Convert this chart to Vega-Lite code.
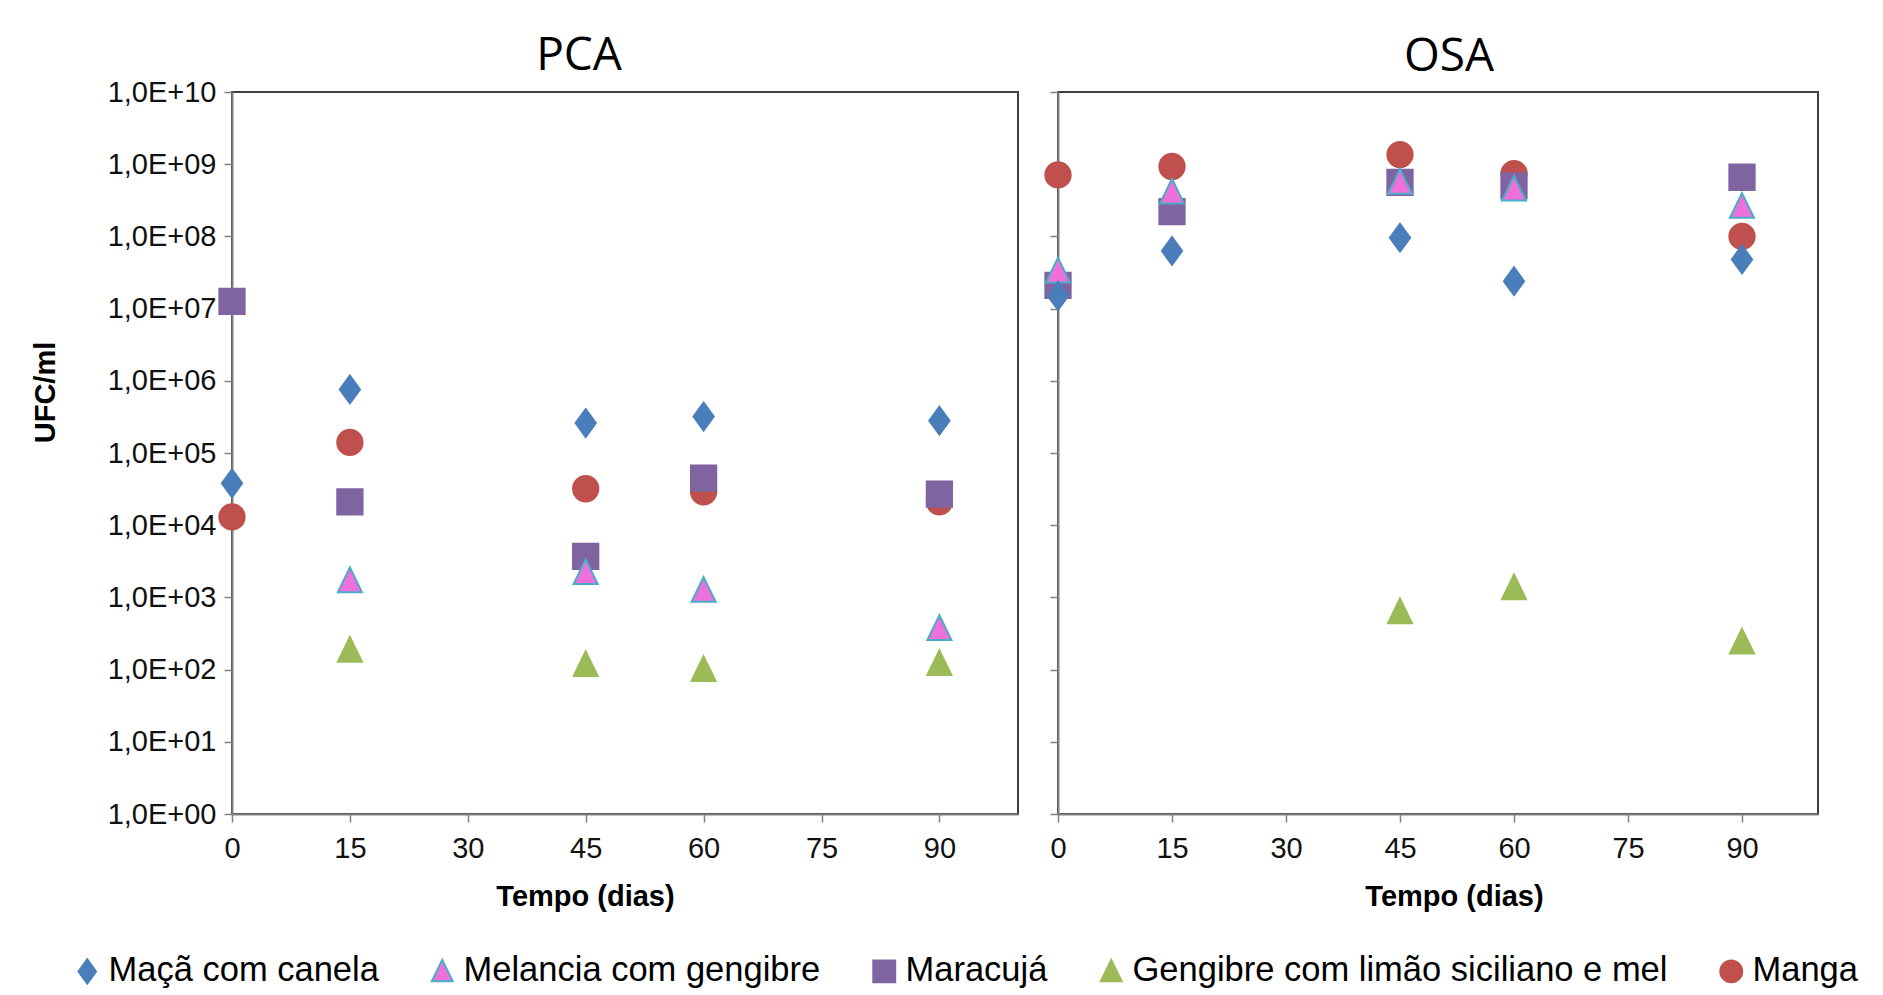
{
  "$schema": "https://vega.github.io/schema/vega-lite/v6.json",
  "background": "white",
  "padding": {"left": 30, "top": 32, "right": 5, "bottom": 5},
  "datasets": {
    "d": [
      {"meio": "PCA", "dia": 0, "serie": "Manga", "ufc": 13000},
      {"meio": "PCA", "dia": 15, "serie": "Manga", "ufc": 140000},
      {"meio": "PCA", "dia": 45, "serie": "Manga", "ufc": 32000},
      {"meio": "PCA", "dia": 60, "serie": "Manga", "ufc": 29000},
      {"meio": "PCA", "dia": 90, "serie": "Manga", "ufc": 21000},
      {"meio": "PCA", "dia": 0, "serie": "Maracujá", "ufc": 12600000},
      {"meio": "PCA", "dia": 15, "serie": "Maracujá", "ufc": 21000},
      {"meio": "PCA", "dia": 45, "serie": "Maracujá", "ufc": 3700},
      {"meio": "PCA", "dia": 60, "serie": "Maracujá", "ufc": 45000},
      {"meio": "PCA", "dia": 90, "serie": "Maracujá", "ufc": 27000},
      {"meio": "PCA", "dia": 15, "serie": "Melancia com gengibre", "ufc": 1700},
      {"meio": "PCA", "dia": 45, "serie": "Melancia com gengibre", "ufc": 2200},
      {"meio": "PCA", "dia": 60, "serie": "Melancia com gengibre", "ufc": 1250},
      {"meio": "PCA", "dia": 90, "serie": "Melancia com gengibre", "ufc": 370},
      {"meio": "PCA", "dia": 0, "serie": "Maçã com canela", "ufc": 38000},
      {"meio": "PCA", "dia": 15, "serie": "Maçã com canela", "ufc": 760000},
      {"meio": "PCA", "dia": 45, "serie": "Maçã com canela", "ufc": 260000},
      {"meio": "PCA", "dia": 60, "serie": "Maçã com canela", "ufc": 320000},
      {"meio": "PCA", "dia": 90, "serie": "Maçã com canela", "ufc": 280000},
      {"meio": "PCA", "dia": 15, "serie": "Gengibre com limão siciliano e mel", "ufc": 185},
      {"meio": "PCA", "dia": 45, "serie": "Gengibre com limão siciliano e mel", "ufc": 117},
      {"meio": "PCA", "dia": 60, "serie": "Gengibre com limão siciliano e mel", "ufc": 100},
      {"meio": "PCA", "dia": 90, "serie": "Gengibre com limão siciliano e mel", "ufc": 121},
      {"meio": "OSA", "dia": 0, "serie": "Manga", "ufc": 710000000},
      {"meio": "OSA", "dia": 15, "serie": "Manga", "ufc": 930000000},
      {"meio": "OSA", "dia": 45, "serie": "Manga", "ufc": 1360000000},
      {"meio": "OSA", "dia": 60, "serie": "Manga", "ufc": 740000000},
      {"meio": "OSA", "dia": 90, "serie": "Manga", "ufc": 100000000},
      {"meio": "OSA", "dia": 0, "serie": "Maracujá", "ufc": 21000000},
      {"meio": "OSA", "dia": 15, "serie": "Maracujá", "ufc": 220000000},
      {"meio": "OSA", "dia": 45, "serie": "Maracujá", "ufc": 560000000},
      {"meio": "OSA", "dia": 60, "serie": "Maracujá", "ufc": 500000000},
      {"meio": "OSA", "dia": 90, "serie": "Maracujá", "ufc": 660000000},
      {"meio": "OSA", "dia": 0, "serie": "Melancia com gengibre", "ufc": 33000000},
      {"meio": "OSA", "dia": 15, "serie": "Melancia com gengibre", "ufc": 410000000},
      {"meio": "OSA", "dia": 45, "serie": "Melancia com gengibre", "ufc": 560000000},
      {"meio": "OSA", "dia": 60, "serie": "Melancia com gengibre", "ufc": 450000000},
      {"meio": "OSA", "dia": 90, "serie": "Melancia com gengibre", "ufc": 260000000},
      {"meio": "OSA", "dia": 0, "serie": "Maçã com canela", "ufc": 15000000},
      {"meio": "OSA", "dia": 15, "serie": "Maçã com canela", "ufc": 63000000},
      {"meio": "OSA", "dia": 45, "serie": "Maçã com canela", "ufc": 96000000},
      {"meio": "OSA", "dia": 60, "serie": "Maçã com canela", "ufc": 24000000},
      {"meio": "OSA", "dia": 90, "serie": "Maçã com canela", "ufc": 48000000},
      {"meio": "OSA", "dia": 45, "serie": "Gengibre com limão siciliano e mel", "ufc": 630},
      {"meio": "OSA", "dia": 60, "serie": "Gengibre com limão siciliano e mel", "ufc": 1360},
      {"meio": "OSA", "dia": 90, "serie": "Gengibre com limão siciliano e mel", "ufc": 240}
    ]
  },
  "data": {"name": "d"},
  "spacing": 21,
  "hconcat": [
    {
      "width": 786,
      "height": 722,
      "title": {"text": "PCA", "dx": -46, "offset": -2},
      "transform": [{"filter": "datum.meio === 'PCA'"}],
      "mark": {"type": "point", "filled": true, "opacity": 1, "size": 640, "strokeWidth": 2},
      "encoding": {
        "x": {"field": "dia", "type": "quantitative", "scale": {"domain": [0, 100], "nice": false},
          "axis": {"title": "Tempo (dias)", "values": [0, 15, 30, 45, 60, 75, 90], "titleX": 353}},
        "y": {"field": "ufc", "type": "quantitative", "scale": {"type": "log", "domain": [1, 10000000000], "nice": false},
          "axis": {"title": "UFC/ml", "values": [1, 10, 100, 1000, 10000, 100000, 1000000, 10000000, 100000000, 1000000000, 10000000000],
            "labelExpr": "'1,0E+' + (round(log(datum.value)/LN10) < 10 ? '0' : '') + round(log(datum.value)/LN10)", "titlePadding": 47, "titleY": 300}},
        "fill": {"field": "serie", "type": "nominal", "scale": {"domain": ["Maçã com canela", "Melancia com gengibre", "Maracujá", "Gengibre com limão siciliano e mel", "Manga"], "range": ["#4A7EBB", "#EE70DA", "#8064A2", "#9BBB59", "#C0504D"]}, "legend": {"title": null}},
        "stroke": {"field": "serie", "type": "nominal", "scale": {"domain": ["Maçã com canela", "Melancia com gengibre", "Maracujá", "Gengibre com limão siciliano e mel", "Manga"], "range": ["#4A7EBB", "#4BACC6", "#8064A2", "#9BBB59", "#C0504D"]}, "legend": {"title": null}},
        "shape": {"field": "serie", "type": "nominal", "scale": {"domain": ["Maçã com canela", "Melancia com gengibre", "Maracujá", "Gengibre com limão siciliano e mel", "Manga"], "range": ["M0,-1.1L0.8,0L0,1.1L-0.8,0Z", "M0,-1.05L0.95,0.9L-0.95,0.9Z", "square", "M0,-1.05L0.95,0.9L-0.95,0.9Z", "circle"]}, "legend": {"title": null}}
      }
    },
    {
      "width": 760,
      "height": 722,
      "title": {"text": "OSA", "dx": 11, "offset": 10},
      "transform": [{"filter": "datum.meio === 'OSA'"}],
      "mark": {"type": "point", "filled": true, "opacity": 1, "size": 640, "strokeWidth": 2},
      "encoding": {
        "x": {"field": "dia", "type": "quantitative", "scale": {"domain": [0, 100], "nice": false},
          "axis": {"title": "Tempo (dias)", "values": [0, 15, 30, 45, 60, 75, 90], "titleX": 396}},
        "y": {"field": "ufc", "type": "quantitative", "scale": {"type": "log", "domain": [1, 10000000000], "nice": false},
          "axis": {"title": null, "labels": false, "values": [1, 10, 100, 1000, 10000, 100000, 1000000, 10000000, 100000000, 1000000000, 10000000000]}},
        "fill": {"field": "serie", "type": "nominal", "scale": {"domain": ["Maçã com canela", "Melancia com gengibre", "Maracujá", "Gengibre com limão siciliano e mel", "Manga"], "range": ["#4A7EBB", "#EE70DA", "#8064A2", "#9BBB59", "#C0504D"]}, "legend": {"title": null}},
        "stroke": {"field": "serie", "type": "nominal", "scale": {"domain": ["Maçã com canela", "Melancia com gengibre", "Maracujá", "Gengibre com limão siciliano e mel", "Manga"], "range": ["#4A7EBB", "#4BACC6", "#8064A2", "#9BBB59", "#C0504D"]}, "legend": {"title": null}},
        "shape": {"field": "serie", "type": "nominal", "scale": {"domain": ["Maçã com canela", "Melancia com gengibre", "Maracujá", "Gengibre com limão siciliano e mel", "Manga"], "range": ["M0,-1.1L0.8,0L0,1.1L-0.8,0Z", "M0,-1.05L0.95,0.9L-0.95,0.9Z", "square", "M0,-1.05L0.95,0.9L-0.95,0.9Z", "circle"]}, "legend": {"title": null}}
      }
    }
  ],
  "config": {
    "font": "Liberation Sans",
    "view": {"stroke": "#404040", "strokeWidth": 2},
    "title": {"font": "Open Sans", "fontSize": 46, "fontWeight": "normal", "color": "#000"},
    "axis": {
      "grid": false,
      "domainColor": "#808080",
      "domainWidth": 2,
      "tickColor": "#808080",
      "tickWidth": 1.5,
      "tickSize": 8,
      "labelFlush": false,
      "labelFont": "Liberation Sans",
      "labelFontSize": 29,
      "labelColor": "#111",
      "labelPadding": 8,
      "titleFont": "Liberation Sans",
      "titleFontSize": 29,
      "titleFontWeight": "bold",
      "titleColor": "#000"
    },
    "axisX": {"labelPadding": 12, "titlePadding": 19},
    "legend": {
      "orient": "none",
      "legendX": -162,
      "legendY": 862,
      "direction": "horizontal",
      "columns": 5,
      "labelFont": "Liberation Sans",
      "labelFontSize": 34.5,
      "labelColor": "#000",
      "labelLimit": 900,
      "symbolSize": 480,
      "symbolStrokeWidth": 2,
      "columnPadding": 46,
      "labelOffset": 4
    }
  }
}
